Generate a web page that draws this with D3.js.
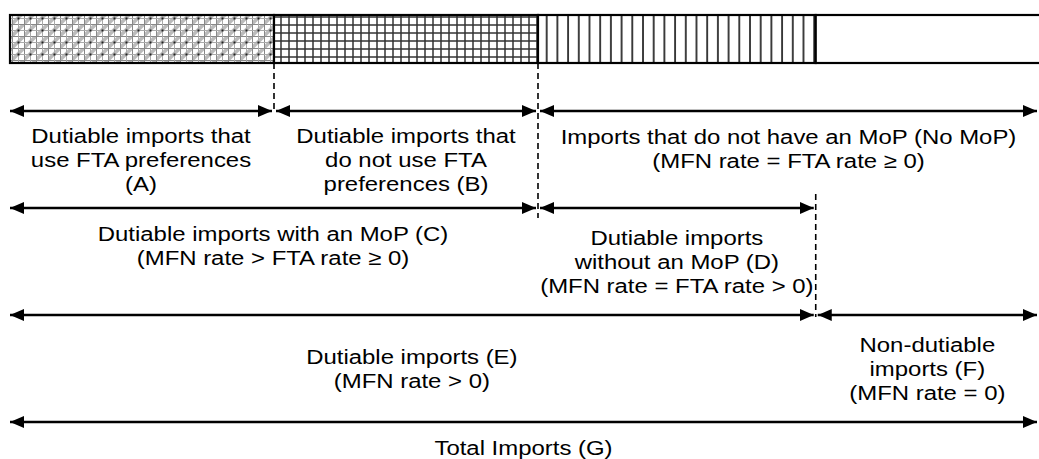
<!DOCTYPE html>
<html>
<head>
<meta charset="utf-8">
<script src="https://cdn.jsdelivr.net/npm/d3@7"></script>
<style>
  body { margin: 0; background: #fff; }
  svg text { font-family: "Liberation Sans", Arial, sans-serif; font-size: 21px; fill: #000; }
</style>
</head>
<body>
<div id="chart"></div>
<script>
// shares of total imports (percent), left to right
var segNames = ["A", "B", "D", "F"];
var segShares = [25, 25, 26.3, 23.7];
var segPatterns = ["pat-a", "pat-b", "pat-c", "none"];

// brackets: [from segment index, to segment index (exclusive), row, label lines]
var rowNames = ["row1", "row2", "row3", "row4"];
var brackets = [
  { from: 0, to: 1, row: 0, lines: ["Dutiable imports that", "use FTA preferences", "(A)"] },
  { from: 1, to: 2, row: 0, lines: ["Dutiable imports that", "do not use FTA", "preferences (B)"] },
  { from: 2, to: 4, row: 0, lines: ["Imports that do not have an MoP (No MoP)", "(MFN rate = FTA rate \u2265 0)"] },
  { from: 0, to: 2, row: 1, lines: ["Dutiable imports with an MoP (C)", "(MFN rate > FTA rate \u2265 0)"] },
  { from: 2, to: 3, row: 1, lines: ["Dutiable imports", "without an MoP (D)", "(MFN rate = FTA rate > 0)"] },
  { from: 0, to: 3, row: 2, lines: ["Dutiable imports (E)", "(MFN rate > 0)"] },
  { from: 3, to: 4, row: 2, lines: ["Non-dutiable", "imports (F)", "(MFN rate = 0)"] },
  { from: 0, to: 4, row: 3, lines: ["Total Imports (G)"] }
];

var width = 1039, height = 459;
var cum = [0];
segShares.forEach(function(v) { cum.push(cum[cum.length - 1] + v); });

var x = d3.scaleLinear().domain([0, 100]).range([10, 1066]);
var y = d3.scaleOrdinal().domain(rowNames).range([111, 208, 315, 422]);
var barTop = 15, barH = 48;
var xEnd = width - 2;

var svg = d3.select("#chart").append("svg")
  .attr("width", width).attr("height", height);

var defs = svg.append("defs");

// A: soft gray check with diagonal shading
var pa = defs.append("pattern").attr("id", "pat-a").attr("patternUnits", "userSpaceOnUse")
  .attr("width", 12).attr("height", 12);
pa.append("rect").attr("width", 12).attr("height", 12).attr("fill", "#fff");
pa.append("path").attr("d", "M0,12 L12,0").attr("stroke", "#bbb").attr("stroke-width", 3.5);
pa.append("path").attr("d", "M0,0.5 H12 M0.5,0 V12").attr("stroke", "#888").attr("stroke-width", 1);
pa.append("path").attr("d", "M0,6.5 H12 M6.5,0 V12").attr("stroke", "#aaa").attr("stroke-width", 1);
pa.append("rect").attr("x", 5.5).attr("y", 5.5).attr("width", 2).attr("height", 2).attr("fill", "#222");

// B: small grid
var pb = defs.append("pattern").attr("id", "pat-b").attr("patternUnits", "userSpaceOnUse")
  .attr("width", 8).attr("height", 8);
pb.append("rect").attr("width", 8).attr("height", 8).attr("fill", "#fff");
pb.append("path").attr("d", "M0,1 H8 M1,0 V8").attr("stroke", "#333").attr("stroke-width", 1.5);

// C: vertical stripes
var pc = defs.append("pattern").attr("id", "pat-c").attr("patternUnits", "userSpaceOnUse")
  .attr("width", 10.7).attr("height", 10);
pc.append("rect").attr("width", 10.7).attr("height", 10).attr("fill", "#fff");
pc.append("path").attr("d", "M1,0 V10").attr("stroke", "#111").attr("stroke-width", 1.6);

defs.append("marker").attr("id", "head-end")
  .attr("viewBox", "0 0 14 12").attr("refX", 14).attr("refY", 6)
  .attr("markerWidth", 14).attr("markerHeight", 12)
  .attr("markerUnits", "userSpaceOnUse").attr("orient", "auto")
  .append("path").attr("d", "M0,0 L14,6 L0,12 Z").attr("fill", "#000");
defs.append("marker").attr("id", "head-start")
  .attr("viewBox", "0 0 14 12").attr("refX", 0).attr("refY", 6)
  .attr("markerWidth", 14).attr("markerHeight", 12)
  .attr("markerUnits", "userSpaceOnUse").attr("orient", "auto")
  .append("path").attr("d", "M14,0 L0,6 L14,12 Z").attr("fill", "#000");

// bar segments
svg.append("g").selectAll("rect").data(segNames).join("rect")
  .attr("x", function(d, i) { return x(cum[i]); })
  .attr("y", barTop)
  .attr("width", function(d, i) { return x(cum[i + 1]) - x(cum[i]); })
  .attr("height", barH)
  .attr("fill", function(d, i) { return segPatterns[i] === "none" ? "#fff" : "url(#" + segPatterns[i] + ")"; })
  .attr("stroke", "#000").attr("stroke-width", 2.2);

// dashed guides
var guides = [
  { seg: 1, y1: barTop + barH, y2: y("row1") + 2 },
  { seg: 2, y1: barTop + barH, y2: y("row2") + 10 },
  { seg: 3, y1: y("row2") - 14, y2: y("row3") + 2 }
];
svg.append("g").selectAll("line").data(guides).join("line")
  .attr("x1", function(d) { return x(cum[d.seg]); })
  .attr("x2", function(d) { return x(cum[d.seg]); })
  .attr("y1", function(d) { return d.y1; })
  .attr("y2", function(d) { return d.y2; })
  .attr("stroke", "#000").attr("stroke-width", 1.6)
  .attr("stroke-dasharray", "6,4");

// arrows
var gap = 2;
var ax1 = function(d) { return x(cum[d.from]) + (d.from > 0 ? gap : 0); };
var ax2 = function(d) { return Math.min(x(cum[d.to]), xEnd) - (d.to < 4 ? gap : 0); };
svg.append("g").selectAll("line").data(brackets).join("line")
  .attr("x1", ax1).attr("x2", ax2)
  .attr("y1", function(d) { return y(rowNames[d.row]); })
  .attr("y2", function(d) { return y(rowNames[d.row]); })
  .attr("stroke", "#000").attr("stroke-width", 2.6)
  .attr("marker-start", "url(#head-start)")
  .attr("marker-end", "url(#head-end)");

// labels (the source image is stretched horizontally)
// three-line labels and the row 3 labels sit centred in the gap, others hang under the arrow
var lineH = 24.5, stretch = 1.14;
var labelY = function(d) {
  var top = y(rowNames[d.row]);
  if (d.row < 3 && (d.lines.length === 3 || d.row === 2)) {
    var mid = (top + y(rowNames[d.row + 1])) / 2;
    return mid - (d.lines.length - 1) * lineH / 2 + 7.5;
  }
  return top + 33;
};
var labels = svg.append("g").selectAll("text").data(brackets).join("text")
  .attr("text-anchor", "middle")
  .attr("transform", function(d) {
    var cx = (ax1(d) + ax2(d)) / 2;
    return "translate(" + cx + "," + labelY(d) + ") scale(" + stretch + ",1)";
  });
labels.selectAll("tspan").data(function(d) { return d.lines; }).join("tspan")
  .attr("x", 0)
  .attr("dy", function(d, i) { return i === 0 ? 0 : lineH; })
  .text(function(d) { return d; });
</script>
</body>
</html>
